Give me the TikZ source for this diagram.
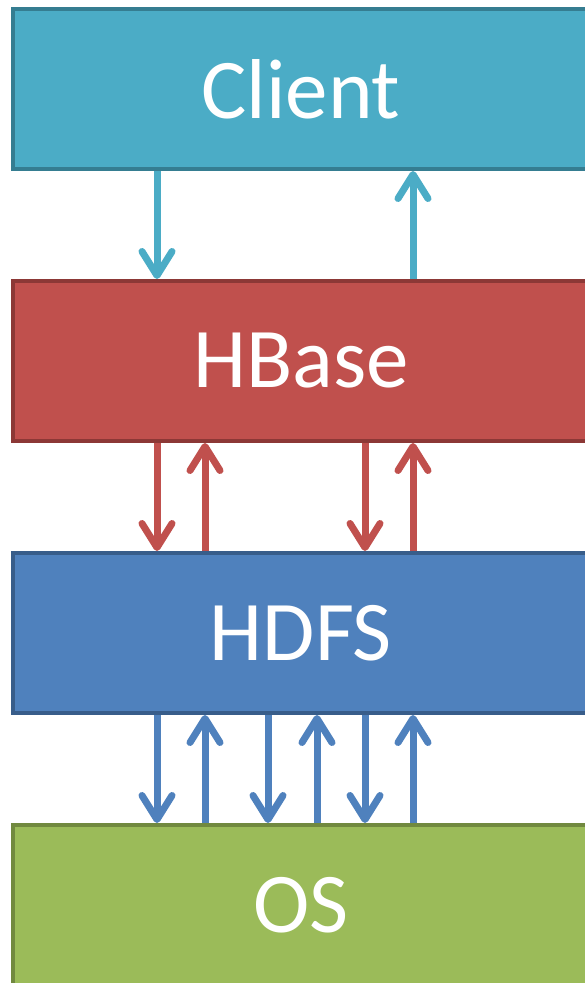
\documentclass[tikz,border=0pt]{standalone}
\usepackage{fontspec}
\setmainfont{Carlito}
\usetikzlibrary{arrows.meta,positioning}
\definecolor{ClientFill}{HTML}{4BACC6}
\definecolor{ClientLine}{HTML}{357D91}
\definecolor{HBaseFill}{HTML}{C0504D}
\definecolor{HBaseLine}{HTML}{8C3836}
\definecolor{HdfsFill}{HTML}{4F81BD}
\definecolor{HdfsLine}{HTML}{385D8A}
\definecolor{OsFill}{HTML}{9BBB59}
\definecolor{OsLine}{HTML}{71893F}

\begin{document}
\begin{tikzpicture}[
	x=1pt, y=-1pt,
	node distance=108pt,
	layer/.style={draw, line width=4pt, minimum width=576pt, minimum height=160pt, inner sep=0pt, text=white, font=\fontsize{85}{85}\selectfont},
	link/.style={line width=7pt, -{Straight Barb[length=24pt,width=30pt,round]}}
]
\useasboundingbox (0,0) rectangle (585,983);
\clip (0,0) rectangle (585,983);

\node[layer, fill=ClientFill, draw=ClientLine] (client) at (301,89) {Client};
\node[layer, fill=HBaseFill, draw=HBaseLine, below=of client] (hbase) {HBase};
\node[layer, fill=HdfsFill, draw=HdfsLine, below=of hbase] (hdfs) {HDFS};
\node[layer, fill=OsFill, draw=OsLine, below=of hdfs] (os) {OS};

% client <-> hbase
\draw[link, ClientFill] (client.south -| 157,0) -- (hbase.north -| 157,0);
\draw[link, ClientFill] (hbase.north -| 413,0) -- (client.south -| 413,0);

% hbase <-> hdfs
\foreach \dx in {157,365}
	\draw[link, HBaseFill] (hbase.south -| \dx,0) -- (hdfs.north -| \dx,0);
\foreach \ux in {205,413}
	\draw[link, HBaseFill] (hdfs.north -| \ux,0) -- (hbase.south -| \ux,0);

% hdfs <-> os
\foreach \dx in {157,268,365}
	\draw[link, HdfsFill] (hdfs.south -| \dx,0) -- (os.north -| \dx,0);
\foreach \ux in {205,317,413}
	\draw[link, HdfsFill] (os.north -| \ux,0) -- (hdfs.south -| \ux,0);
\end{tikzpicture}
\end{document}
